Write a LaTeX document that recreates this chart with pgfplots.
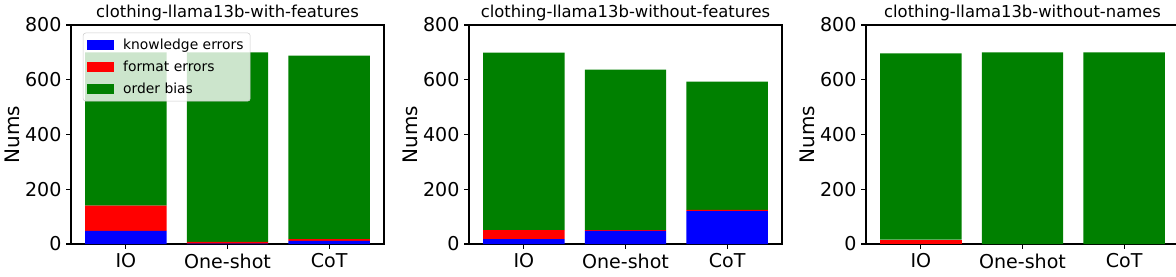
\documentclass[border=0pt]{standalone}
\usepackage{pgfplots}
\pgfplotsset{compat=1.18}
\usepackage{fontspec}
\setmainfont{DejaVu Sans}
\definecolor{mplgreen}{RGB}{0,128,0}
\definecolor{mplblue}{RGB}{0,0,255}
\definecolor{mplred}{RGB}{255,0,0}
\pgfplotsset{
  every axis title shift=0pt,
  panel/.style={
    scale only axis, width=234.75pt, height=164.25pt,
    ybar stacked, bar width=0.8,
    xmin=-0.54, xmax=2.54, ymin=0, ymax=800,
    xtick={0,1,2}, xticklabels={IO,One-shot,CoT},
    ytick={0,200,400,600,800},
    tick pos=left, tick align=outside,
    major tick length=3.6pt,
    every tick/.style={black, line width=0.8pt},
    axis line style={line width=0.8pt},
    /pgf/number format/assume math mode=true,
    tick label style={font=\fontsize{14.3}{17}\selectfont},
    ylabel={Nums},
    every axis y label/.style={at={(axis description cs:0,0.5)}, xshift=-44pt, rotate=90, anchor=center, font=\fontsize{15}{18}\selectfont},
    every axis title/.style={at={(0.5,1)}, anchor=base, yshift=5.5pt, font=\fontsize{12.3}{14}\selectfont},
    area legend,
    every axis plot/.append style={draw=none},
  }
}
\begin{document}
\begin{tikzpicture}
\useasboundingbox (0,-24pt) rectangle (882pt,183pt);
\begin{axis}[panel, at={(53.25pt,0)}, anchor=south west,
  title={clothing-llama13b-with-features},
  legend cell align=left,
  legend style={at={(0.038,0.965)}, anchor=north west, rounded corners=2pt, draw=black!20, fill=white, fill opacity=0.8, text opacity=1, font=\fontsize{10.4}{12}\selectfont, row sep=3pt, inner xsep=3pt, inner ysep=2.5pt},
  legend image code/.code={\fill[#1, fill opacity=1, sharp corners] (0pt,-3.6pt) rectangle (20pt,3.6pt); \path (25pt,0pt);},
]
\addplot+[fill=mplblue] coordinates {(0,48) (1,1) (2,11)};
\addplot+[fill=mplred] coordinates {(0,92) (1,7) (2,7)};
\addplot+[fill=mplgreen] coordinates {(0,560) (1,692) (2,670)};
\legend{knowledge errors, format errors, order bias}
\end{axis}
\begin{axis}[panel, at={(351.75pt,0)}, anchor=south west,
  title={clothing-llama13b-without-features}]
\addplot+[fill=mplblue] coordinates {(0,18) (1,48) (2,120)};
\addplot+[fill=mplred] coordinates {(0,33) (1,3) (2,5)};
\addplot+[fill=mplgreen] coordinates {(0,648) (1,586) (2,468)};
\end{axis}
\begin{axis}[panel, at={(649.5pt,0)}, anchor=south west,
  title={clothing-llama13b-without-names}]
\addplot+[fill=mplblue] coordinates {(0,0) (1,0) (2,0)};
\addplot+[fill=mplred] coordinates {(0,16) (1,0) (2,0)};
\addplot+[fill=mplgreen] coordinates {(0,680) (1,700) (2,700)};
\end{axis}
\end{tikzpicture}
\end{document}
